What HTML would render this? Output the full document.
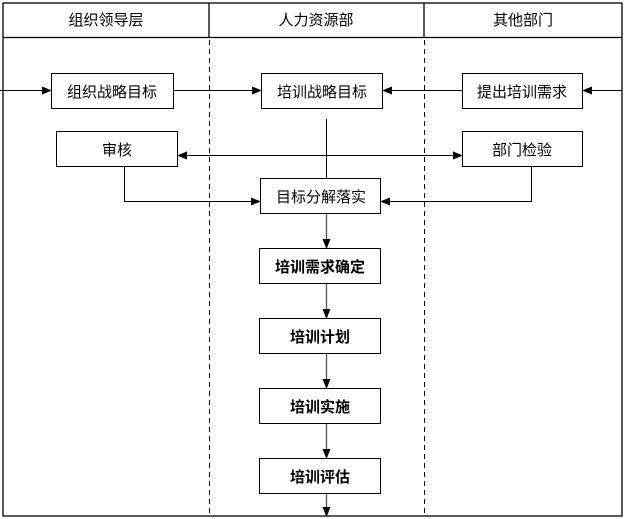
<!DOCTYPE html>
<html><head><meta charset="utf-8"><style>
html,body{margin:0;padding:0;background:#fff;}
svg{display:block;}
text{font-family:"Liberation Sans","Noto Sans CJK SC",sans-serif;font-size:15px;fill:#000;}
.b{font-weight:bold;}
</style></head><body>
<svg width="626" height="519" viewBox="0 0 626 519" xmlns="http://www.w3.org/2000/svg">
<defs>
<marker id="a" markerWidth="10" markerHeight="8" refX="9" refY="4" orient="auto" markerUnits="userSpaceOnUse">
<path d="M0,0 L10,4 L0,8 Z" fill="#000"/></marker>
</defs>
<g fill="none" stroke="#000" stroke-width="1.3">
<rect x="3" y="3" width="619" height="513"/>
<line x1="3" y1="37.5" x2="622" y2="37.5"/>
<line x1="209" y1="3" x2="209" y2="37"/>
<line x1="424" y1="3" x2="424" y2="37"/>
</g>
<g stroke="#000" stroke-width="1" stroke-dasharray="5,4">
<line x1="209.5" y1="40" x2="209.5" y2="514"/>
<line x1="424.5" y1="40" x2="424.5" y2="514"/>
</g>
<g fill="#fff" stroke="#000" stroke-width="1">
<rect x="51.5" y="73.5" width="122" height="35"/>
<rect x="261.5" y="73.5" width="121" height="35"/>
<rect x="462.5" y="73.5" width="120" height="35"/>
<rect x="56.5" y="131.5" width="121" height="35"/>
<rect x="462.5" y="131.5" width="120" height="35"/>
<rect x="260.5" y="178.5" width="120" height="35"/>
<rect x="259.5" y="248.5" width="121" height="35"/>
<rect x="259.5" y="318.5" width="121" height="35"/>
<rect x="259.5" y="388.5" width="121" height="35"/>
<rect x="259.5" y="458.5" width="121" height="35"/>
</g>
<g fill="none" stroke="#000" stroke-width="1">
<line x1="0" y1="90.5" x2="51" y2="90.5" marker-end="url(#a)"/>
<line x1="174" y1="90.5" x2="261" y2="90.5" marker-end="url(#a)"/>
<line x1="462" y1="90.5" x2="383" y2="90.5" marker-end="url(#a)"/>
<line x1="622" y1="90.5" x2="583" y2="90.5" marker-end="url(#a)"/>
<line x1="320" y1="155.5" x2="178" y2="155.5" marker-end="url(#a)"/>
<line x1="320" y1="155.5" x2="462" y2="155.5" marker-end="url(#a)"/>
<line x1="326.5" y1="119" x2="326.5" y2="178"/>
<polyline points="124.5,166 124.5,201.5 260,201.5" marker-end="url(#a)"/>
<polyline points="531.5,166 531.5,201.5 381,201.5" marker-end="url(#a)"/>
</g>
<g fill="none" stroke="#555" stroke-width="1.3">
<line x1="326.5" y1="214" x2="326.5" y2="248" marker-end="url(#a)"/>
<line x1="326.5" y1="284" x2="326.5" y2="318" marker-end="url(#a)"/>
<line x1="326.5" y1="354" x2="326.5" y2="388" marker-end="url(#a)"/>
<line x1="326.5" y1="424" x2="326.5" y2="458" marker-end="url(#a)"/>
<line x1="326.5" y1="494" x2="326.5" y2="516" marker-end="url(#a)"/>
</g>
<g text-anchor="middle">
<text x="106" y="25">组织领导层</text>
<text x="316" y="25">人力资源部</text>
<text x="523" y="25">其他部门</text>
<text x="112" y="97">组织战略目标</text>
<text x="322" y="97">培训战略目标</text>
<text x="522" y="97">提出培训需求</text>
<text x="117" y="155">审核</text>
<text x="522" y="155">部门检验</text>
<text x="321" y="202">目标分解落实</text>
<text class="b" x="320" y="272">培训需求确定</text>
<text class="b" x="320" y="342">培训计划</text>
<text class="b" x="320" y="412">培训实施</text>
<text class="b" x="320" y="482">培训评估</text>
</g>
</svg>
</body></html>
